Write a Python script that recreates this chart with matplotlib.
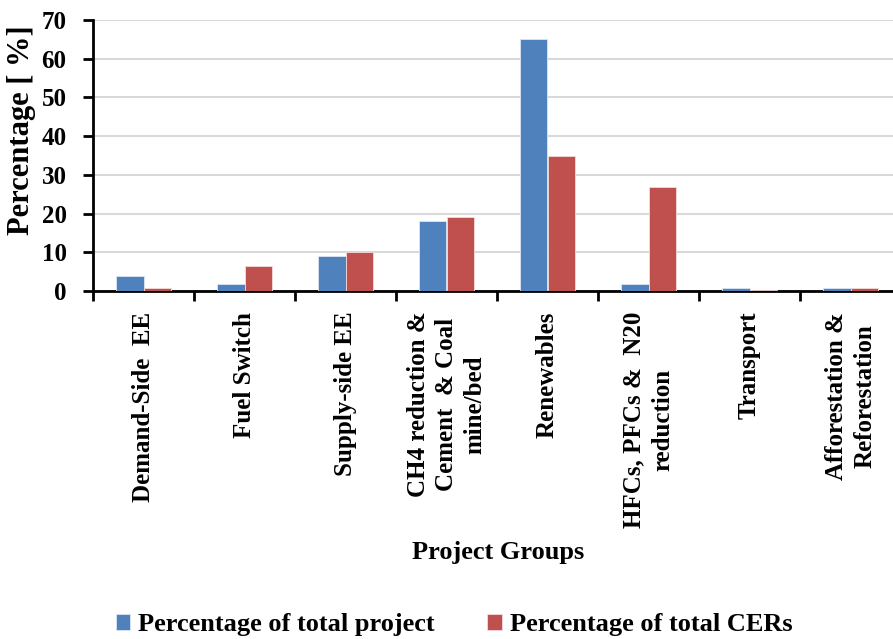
import matplotlib
matplotlib.use("Agg")
import matplotlib.pyplot as plt
import numpy as np

categories = [
    "Demand-Side  EE",
    "Fuel Switch",
    "Supply-side EE",
    "CH4 reduction &\nCement  & Coal\nmine/bed",
    "Renewables",
    "HFCs, PFCs &  N20\nreduction",
    "Transport",
    "Afforestation &\nReforestation",
]
pct_projects = [4.0, 1.8, 9.0, 18.0, 65.0, 1.8, 0.7, 0.7]
pct_cers = [0.8, 6.5, 10.1, 19.0, 35.0, 26.8, 0.25, 0.7]
yticks = [0, 10, 20, 30, 40, 50, 60, 70]

plt.rcParams['font.family'] = ['Liberation Serif', 'DejaVu Serif']
plt.rcParams['font.weight'] = 'bold'

fig = plt.figure(figsize=(8.93, 6.39), dpi=100)
ax = fig.add_axes([93/893, 1 - 291/639, 808/893, (291 - 20)/639])

x = np.arange(len(categories))
w = 0.275
blue = "#4F81BD"
red = "#C0504D"
ax.bar(x - w/2, pct_projects, w, color=blue, edgecolor="#dce6f2", linewidth=0.6,
       label="Percentage of total project", zorder=3)
ax.bar(x + w/2, pct_cers, w, color=red, edgecolor="#f2dcdb", linewidth=0.6,
       label="Percentage of total CERs", zorder=3)

ax.set_xlim(-0.5, len(categories) - 0.5)
ax.set_ylim(0, 70)
ax.set_yticks(yticks)
ax.set_yticklabels([str(v) for v in yticks], fontsize=18, fontweight='bold')
ax.yaxis.grid(True, color="#D9D9D9", linewidth=1.5, zorder=0)
ax.set_axisbelow(True)

ax.set_xticks(x)
ax.set_xticklabels(categories, rotation=90, fontsize=18, fontweight='bold',
                   multialignment='center', linespacing=1.3)
ax.set_xticks(np.arange(-0.5, len(categories) + 0.5, 1), minor=True)
ax.tick_params(axis='x', which='major', length=0, pad=15)
ax.tick_params(axis='x', which='minor', length=7, width=2, direction='out')
ax.tick_params(axis='y', which='major', length=7, width=2, direction='out', pad=12)

for s in ['top', 'right']:
    ax.spines[s].set_visible(False)
for s in ['left', 'bottom']:
    ax.spines[s].set_linewidth(2)
    ax.spines[s].set_color('black')

fig.text(22/893, 1 - 130/639, "Percentage [ %]", rotation=90, ha='center', va='center',
         fontsize=22, fontweight='bold')
fig.text(498/893, 1 - 553/639, "Project Groups", ha='center', va='center',
         fontsize=19, fontweight='bold')

handles, labels = ax.get_legend_handles_labels()
fig.legend(handles, labels, loc='center', bbox_to_anchor=(454/893, 1 - 625/639),
           ncol=2, frameon=False, handlelength=0.55, handleheight=0.55,
           handletextpad=0.3, columnspacing=2.0, prop={'weight': 'bold', 'size': 19})

fig.savefig("out.png", dpi=100)
